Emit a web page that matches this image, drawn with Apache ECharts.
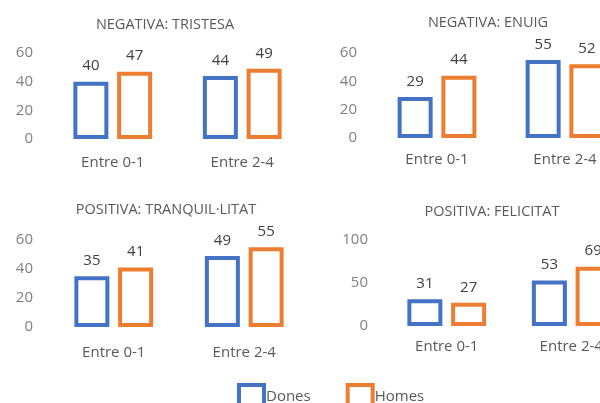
<!DOCTYPE html>
<html>
<head>
<meta charset="utf-8">
<script src="https://cdn.jsdelivr.net/npm/echarts@6/dist/echarts.min.js"></script>
<style>html,body{margin:0;padding:0;background:#fff;}#c{width:600px;height:403px;}</style>
</head>
<body>
<div id="c"></div>
<script>
var categories = ['Entre 0-1', 'Entre 2-4'];
var seriesNames = ['Dones', 'Homes'];
var titles = ['NEGATIVA: TRISTESA', 'NEGATIVA: ENUIG', 'POSITIVA: TRANQUIL·LITAT', 'POSITIVA: FELICITAT'];
var tristesaDones = [40, 44];
var tristesaHomes = [47, 49];
var enuigDones = [29, 55];
var enuigHomes = [44, 52];
var tranquilDones = [35, 49];
var tranquilHomes = [41, 55];
var felicitatDones = [31, 53];
var felicitatHomes = [27, 69];
var yMax = [60, 60, 60, 100];
var yInterval = [20, 20, 20, 50];

var panelData = [
  [tristesaDones, tristesaHomes],
  [enuigDones, enuigHomes],
  [tranquilDones, tranquilHomes],
  [felicitatDones, felicitatHomes]
];
var colors = ['#4472C4', '#ED7D31'];
var font = 'Open Sans';

var grids = [
  {left: 48, top: 53, width: 259, height: 86},
  {left: 373, top: 53, width: 256, height: 85},
  {left: 48.5, top: 240, width: 261, height: 87},
  {left: 384.5, top: 240, width: 249, height: 86}
];
var titlePos = [[160, 12], [483, 10], [161, 197], [487, 199]];
var catMargin = [16, 14, 18, 13];
var yMargin = [15, 16, 15.5, 16.5];

var option = {
  animation: false,
  backgroundColor: '#fff',
  title: titles.map(function (t, i) {
    return {
      text: t, left: titlePos[i][0], top: titlePos[i][1], textAlign: 'center',
      textStyle: {fontFamily: font, fontSize: 14.5, fontWeight: 'normal', color: '#595959'}
    };
  }),
  legend: {
    data: seriesNames.map(function (n) { return {name: n, icon: 'rect'}; }),
    left: 232, top: 378, itemWidth: 25, itemHeight: 24, itemGap: 35,
    textStyle: {fontFamily: font, fontSize: 15, color: '#595959', padding: [0, 0, 0, -3]},
    itemStyle: {borderWidth: 4}
  },
  grid: grids.map(function (g) {
    return Object.assign({outerBoundsMode: 'none', containLabel: false}, g);
  }),
  xAxis: grids.map(function (g, i) {
    return {
      type: 'category', gridIndex: i, data: categories,
      axisLine: {show: false}, axisTick: {show: false},
      axisLabel: {fontFamily: font, fontSize: 15, color: '#595959', margin: catMargin[i]}
    };
  }),
  yAxis: grids.map(function (g, i) {
    return {
      type: 'value', gridIndex: i, min: 0, max: yMax[i], interval: yInterval[i],
      axisLine: {show: false}, axisTick: {show: false}, splitLine: {show: false},
      axisLabel: {fontFamily: font, fontSize: 15, color: '#808080', margin: yMargin[i]}
    };
  }),
  series: []
};

panelData.forEach(function (pd, i) {
  pd.forEach(function (vals, s) {
    option.series.push({
      type: 'bar', name: seriesNames[s], xAxisIndex: i, yAxisIndex: i,
      data: vals, barWidth: 35, barGap: '25%',
      itemStyle: {color: '#ffffff', borderColor: colors[s], borderWidth: 4},
      label: {show: true, position: 'top', distance: 8, fontFamily: font, fontSize: 15, color: '#404040'}
    });
  });
});

var chart = echarts.init(document.getElementById('c'), null, {renderer: 'canvas'});
chart.setOption(option);
</script>
</body>
</html>
